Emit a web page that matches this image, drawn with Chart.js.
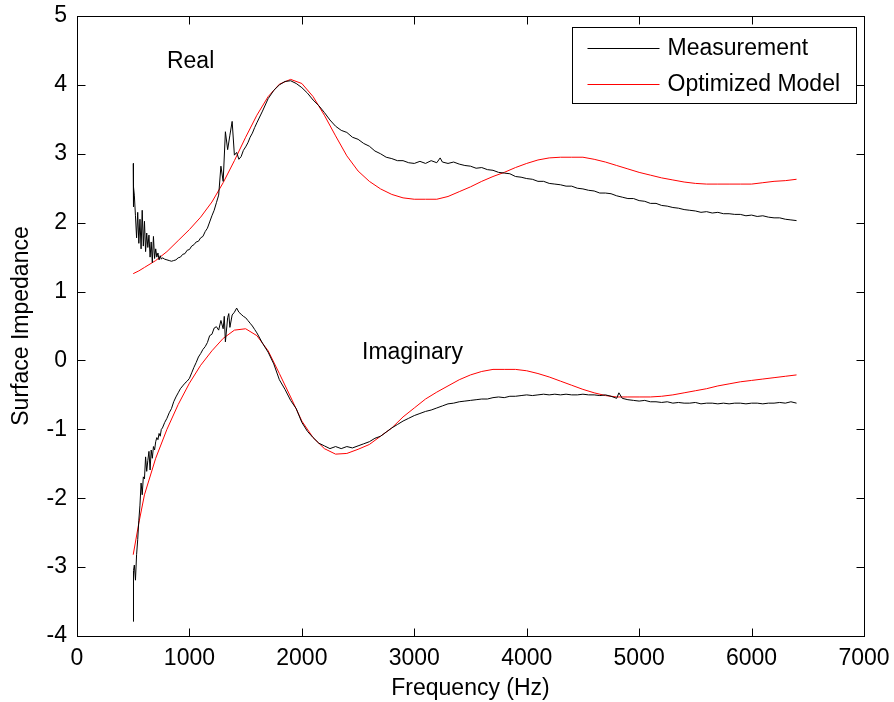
<!DOCTYPE html>
<html>
<head>
<meta charset="utf-8">
<script src="https://cdn.jsdelivr.net/npm/chart.js@4.4.1/dist/chart.umd.min.js"></script>
<style>
  html, body { margin: 0; padding: 0; background: #fff; }
  #wrap { width: 894px; height: 702px; }
</style>
</head>
<body>
<div id="wrap"><canvas id="grafica"></canvas></div>
<script>
// Datos (frecuencia en Hz, impedancia)
const medicionReal = [
  [500,2.86],[500,2.23],[505,2.52],[510,2.40],[520,2.10],[530,1.78],[540,2.15],[550,1.70],[560,2.05],[570,1.62],
  [580,2.18],[590,1.66],[600,2.02],[610,1.58],[620,1.85],[630,1.64],[640,1.82],[650,1.50],[660,1.72],[670,1.42],
  [680,1.80],[690,1.48],[700,1.62],[710,1.50],[720,1.56],[730,1.46],[740,1.52],[750,1.47],[760,1.49],[780,1.47],
  [800,1.46],[820,1.45],[840,1.44],[860,1.45],[880,1.46],[900,1.49],[920,1.50],[940,1.54],[960,1.55],[980,1.60],
  [1000,1.61],[1020,1.66],[1040,1.68],[1060,1.72],[1080,1.73],[1100,1.78],[1120,1.80],[1140,1.87],[1160,1.92],[1180,2.01],
  [1200,2.10],[1220,2.18],[1240,2.29],[1260,2.40],[1280,2.82],[1300,2.60],[1320,3.32],[1340,3.06],[1360,3.27],[1380,3.47],
  [1400,2.98],[1420,3.02],[1440,2.92],[1460,2.96],[1480,3.05],[1500,3.10],[1520,3.16],[1540,3.24],[1560,3.30],[1580,3.38],
  [1600,3.45],[1650,3.62],[1700,3.80],[1750,3.92],[1800,4.00],[1850,4.05],[1900,4.06],[1950,4.02],[2000,3.96],[2050,3.88],
  [2100,3.78],[2150,3.70],[2200,3.60],[2250,3.49],[2300,3.40],[2350,3.34],[2400,3.31],[2450,3.24],[2500,3.21],[2550,3.15],
  [2600,3.11],[2650,3.04],[2700,3.00],[2750,2.95],[2800,2.93],[2850,2.90],[2900,2.90],[2950,2.87],[3000,2.86],[3050,2.89],
  [3100,2.86],[3150,2.90],[3200,2.87],[3230,2.94],[3250,2.88],[3300,2.86],[3350,2.88],[3400,2.85],[3450,2.83],[3500,2.82],
  [3550,2.79],[3600,2.80],[3650,2.77],[3700,2.76],[3750,2.73],[3800,2.72],[3850,2.71],[3900,2.67],[3950,2.66],[4000,2.64],
  [4050,2.63],[4100,2.60],[4150,2.60],[4200,2.57],[4250,2.56],[4300,2.55],[4350,2.53],[4400,2.53],[4450,2.50],[4500,2.49],
  [4550,2.47],[4600,2.46],[4650,2.43],[4700,2.43],[4750,2.42],[4800,2.39],[4850,2.37],[4900,2.35],[4950,2.35],[5000,2.32],
  [5050,2.31],[5100,2.28],[5150,2.28],[5200,2.25],[5250,2.24],[5300,2.22],[5350,2.21],[5400,2.19],[5450,2.18],[5500,2.17],
  [5550,2.15],[5600,2.16],[5650,2.14],[5700,2.15],[5750,2.13],[5800,2.13],[5850,2.12],[5900,2.12],[5950,2.10],[6000,2.11],
  [6050,2.09],[6100,2.10],[6150,2.08],[6200,2.07],[6250,2.07],[6300,2.05],[6350,2.04],[6400,2.03]
];

const medicionImag = [
  [500,-3.79],[500,-3.21],[505,-3.05],[510,-2.97],[520,-3.19],[530,-2.82],[540,-2.60],[550,-2.32],[560,-2.10],[570,-1.78],
  [580,-1.95],[590,-1.69],[600,-1.72],[610,-1.40],[620,-1.61],[630,-1.45],[640,-1.32],[650,-1.59],[660,-1.30],[670,-1.42],
  [680,-1.25],[690,-1.30],[700,-1.18],[710,-1.12],[720,-1.15],[730,-1.06],[740,-1.10],[750,-1.00],[760,-0.98],[780,-0.90],
  [800,-0.84],[820,-0.76],[840,-0.70],[860,-0.60],[880,-0.53],[900,-0.47],[920,-0.41],[940,-0.37],[960,-0.33],[980,-0.30],
  [1000,-0.26],[1020,-0.18],[1040,-0.10],[1060,-0.03],[1080,0.05],[1100,0.10],[1120,0.16],[1140,0.20],[1160,0.26],[1180,0.36],
  [1200,0.38],[1220,0.47],[1240,0.49],[1260,0.44],[1280,0.58],[1300,0.46],[1310,0.64],[1320,0.27],[1340,0.62],[1350,0.68],
  [1360,0.48],[1380,0.66],[1400,0.70],[1420,0.76],[1440,0.70],[1460,0.67],[1480,0.64],[1500,0.62],[1520,0.58],[1540,0.54],
  [1560,0.50],[1580,0.45],[1600,0.40],[1650,0.25],[1700,0.12],[1750,-0.05],[1800,-0.28],[1850,-0.42],[1900,-0.58],[1950,-0.70],
  [2000,-0.90],[2050,-1.03],[2100,-1.12],[2150,-1.20],[2200,-1.24],[2250,-1.28],[2300,-1.25],[2350,-1.28],[2400,-1.25],[2450,-1.27],
  [2500,-1.24],[2550,-1.21],[2600,-1.18],[2650,-1.13],[2700,-1.10],[2750,-1.04],[2800,-0.98],[2850,-0.93],[2900,-0.88],[2950,-0.84],
  [3000,-0.80],[3050,-0.77],[3100,-0.74],[3150,-0.72],[3200,-0.69],[3250,-0.66],[3300,-0.63],[3350,-0.62],[3400,-0.60],[3450,-0.59],
  [3500,-0.58],[3550,-0.57],[3600,-0.56],[3650,-0.56],[3700,-0.54],[3750,-0.53],[3800,-0.54],[3850,-0.52],[3900,-0.52],[3950,-0.51],
  [4000,-0.50],[4050,-0.51],[4100,-0.50],[4150,-0.49],[4200,-0.50],[4250,-0.49],[4300,-0.50],[4350,-0.49],[4400,-0.50],[4450,-0.50],
  [4500,-0.49],[4550,-0.50],[4600,-0.50],[4650,-0.51],[4700,-0.50],[4750,-0.52],[4800,-0.55],[4820,-0.47],[4850,-0.55],[4900,-0.57],
  [4950,-0.58],[5000,-0.59],[5050,-0.58],[5100,-0.60],[5150,-0.60],[5200,-0.61],[5250,-0.60],[5300,-0.62],[5350,-0.61],[5400,-0.62],
  [5450,-0.62],[5500,-0.61],[5550,-0.63],[5600,-0.62],[5650,-0.62],[5700,-0.63],[5750,-0.62],[5800,-0.63],[5850,-0.62],[5900,-0.62],
  [5950,-0.63],[6000,-0.62],[6050,-0.62],[6100,-0.63],[6150,-0.62],[6200,-0.62],[6250,-0.61],[6300,-0.62],[6350,-0.60],[6400,-0.62]
];

const modeloFreq = [500,550,600,700,800,900,1000,1100,1200,1300,1400,1500,1600,1700,1800,1900,2000,2100,2200,2300,
  2400,2500,2600,2700,2800,2900,3000,3100,3200,3300,3400,3500,3600,3700,3800,3900,4000,4100,4200,4300,
  4400,4500,4600,4700,4800,4900,5000,5100,5200,5300,5400,5500,5600,5700,5800,5900,6000,6100,6200,6300,6400];
const modeloReal = [1.26,1.30,1.35,1.45,1.58,1.74,1.90,2.08,2.30,2.58,2.90,3.24,3.56,3.83,4.01,4.08,4.02,3.83,3.56,3.26,
  2.97,2.75,2.60,2.49,2.41,2.36,2.34,2.34,2.34,2.38,2.45,2.52,2.60,2.67,2.73,2.80,2.86,2.91,2.94,2.95,
  2.95,2.95,2.92,2.88,2.83,2.78,2.73,2.69,2.65,2.62,2.59,2.57,2.56,2.56,2.56,2.56,2.56,2.58,2.60,2.61,2.63];
const modeloImag = [-2.82,-2.36,-1.95,-1.42,-1.00,-0.64,-0.33,-0.07,0.14,0.32,0.44,0.46,0.36,0.14,-0.19,-0.53,-0.88,-1.12,-1.28,-1.36,
  -1.35,-1.29,-1.22,-1.10,-0.98,-0.82,-0.69,-0.56,-0.46,-0.37,-0.28,-0.21,-0.16,-0.13,-0.13,-0.13,-0.15,-0.19,-0.24,-0.30,
  -0.36,-0.42,-0.47,-0.51,-0.53,-0.53,-0.53,-0.53,-0.52,-0.50,-0.47,-0.44,-0.41,-0.37,-0.34,-0.31,-0.29,-0.27,-0.25,-0.23,-0.21];

const etiquetas = [
  { texto: 'Real', f: 800, v: 4.33 },
  { texto: 'Imaginary', f: 2535, v: 0.12 }
];

const FUENTE = '"Liberation Sans", Arial, Helvetica, sans-serif';
const TAM = 23;

const aPuntos = pares => pares.map(p => ({ x: p[0], y: p[1] }));
const modeloPuntos = valores => modeloFreq.map((f, i) => ({ x: f, y: valores[i] }));

// Marco tipo MATLAB: caja, ticks hacia adentro, textos y leyenda
const marcoPlugin = {
  id: 'marco',
  afterDraw(chart) {
    const { ctx, chartArea: a, scales: { x, y } } = chart;
    ctx.save();
    ctx.strokeStyle = '#000';
    ctx.lineWidth = 1;
    const L = Math.round(a.left) + 0.5, R = Math.round(a.right) + 0.5;
    const T = Math.round(a.top) + 0.5, B = Math.round(a.bottom) + 0.5;
    ctx.strokeRect(L, T, R - L, B - T);

    const largo = 8;
    ctx.beginPath();
    x.ticks.forEach(t => {
      const px = Math.round(x.getPixelForValue(t.value)) + 0.5;
      ctx.moveTo(px, B); ctx.lineTo(px, B - largo);
      ctx.moveTo(px, T); ctx.lineTo(px, T + largo);
    });
    y.ticks.forEach(t => {
      const py = Math.round(y.getPixelForValue(t.value)) + 0.5;
      ctx.moveTo(L, py); ctx.lineTo(L + largo, py);
      ctx.moveTo(R, py); ctx.lineTo(R - largo, py);
    });
    ctx.stroke();

    // Textos dentro de la grafica
    ctx.fillStyle = '#000';
    ctx.font = TAM + 'px ' + FUENTE;
    ctx.textBaseline = 'middle';
    ctx.textAlign = 'left';
    etiquetas.forEach(e => {
      ctx.fillText(e.texto, x.getPixelForValue(e.f), y.getPixelForValue(e.v));
    });

    // Leyenda
    const bx = 572.5, by = 27.5, bw = 284, bh = 76;
    ctx.fillStyle = '#fff';
    ctx.fillRect(bx, by, bw, bh);
    ctx.strokeStyle = '#000';
    ctx.strokeRect(bx, by, bw, bh);
    const filas = [chart.data.datasets[0], chart.data.datasets[2]];
    filas.forEach((ds, i) => {
      const fy = by + 20 + i * 36;
      ctx.strokeStyle = ds.borderColor;
      ctx.beginPath();
      ctx.moveTo(bx + 15, Math.round(fy) + 0.5);
      ctx.lineTo(bx + 87, Math.round(fy) + 0.5);
      ctx.stroke();
      ctx.fillStyle = '#000';
      ctx.fillText(ds.label, bx + 95, fy + 1);
    });
    ctx.restore();
  }
};

const ctx = document.getElementById('grafica').getContext('2d');
new Chart(ctx, {
  type: 'line',
  data: {
    datasets: [
      { label: 'Measurement', data: aPuntos(medicionReal), borderColor: '#000000', borderWidth: 1 },
      { label: 'Measurement', data: aPuntos(medicionImag), borderColor: '#000000', borderWidth: 1 },
      { label: 'Optimized Model', data: modeloPuntos(modeloReal), borderColor: '#ff0000', borderWidth: 1 },
      { label: 'Optimized Model', data: modeloPuntos(modeloImag), borderColor: '#ff0000', borderWidth: 1 }
    ]
  },
  options: {
    responsive: true,
    maintainAspectRatio: false,
    animation: false,
    parsing: false,
    elements: { point: { radius: 0 }, line: { fill: false, tension: 0 } },
    layout: { padding: { left: 0, right: 30, top: 16, bottom: 0 } },
    plugins: { legend: { display: false }, tooltip: { enabled: false } },
    scales: {
      x: {
        type: 'linear', min: 0, max: 7000,
        grid: { display: false, drawTicks: false },
        border: { display: false },
        ticks: { stepSize: 1000, color: '#000', font: { family: FUENTE, size: TAM }, padding: 9, maxRotation: 0,
                 callback: v => String(v) },
        title: { display: true, text: 'Frequency (Hz)', color: '#000', font: { family: FUENTE, size: TAM }, padding: { top: 0, bottom: 0 } },
        afterFit: s => { s.height = 66; s.paddingLeft = 0; s.paddingRight = 0; }
      },
      y: {
        type: 'linear', min: -4, max: 5,
        grid: { display: false, drawTicks: false },
        border: { display: false },
        ticks: { stepSize: 1, color: '#000', font: { family: FUENTE, size: TAM }, padding: 10 },
        title: { display: true, text: 'Surface Impedance', color: '#000', font: { family: FUENTE, size: TAM }, padding: { top: 8, bottom: 0 } },
        afterFit: s => { s.width = 77; s.paddingTop = 0; s.paddingBottom = 0; }
      }
    }
  },
  plugins: [marcoPlugin]
});
</script>
</body>
</html>
